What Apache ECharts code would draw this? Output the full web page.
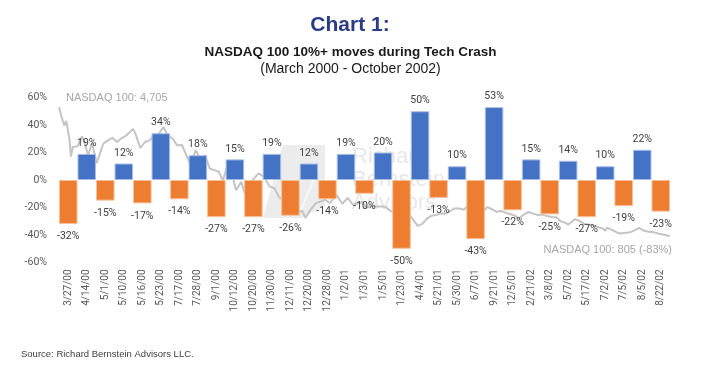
<!DOCTYPE html>
<html><head><meta charset="utf-8">
<script src="https://cdn.jsdelivr.net/npm/echarts@6/dist/echarts.min.js"></script>
<style>html,body{margin:0;padding:0;background:#fff}#c{width:703px;height:373px}</style>
</head><body><div id="c"></div>
<script>
const categories = ['3/27/00','4/14/00','5/1/00','5/10/00','5/16/00','5/23/00','7/17/00','7/28/00','9/1/00','10/12/00','10/20/00','11/30/00','12/11/00','12/20/00','12/28/00','1/2/01','1/3/01','1/5/01','1/23/01','4/4/01','5/21/01','5/30/01','6/7/01','9/21/01','12/5/01','2/21/02','3/8/02','5/7/02','5/17/02','7/2/02','7/5/02','8/5/02','8/22/02'];
const moves = [-32,19,-15,12,-17,34,-14,18,-27,15,-27,19,-26,12,-14,19,-10,20,-50,50,-13,10,-43,53,-22,15,-25,14,-27,10,-19,22,-23];

const lineDates = ['2000-03-27','2000-03-31','2000-04-04','2000-04-07','2000-04-12','2000-04-14','2000-04-17','2000-04-24','2000-05-01','2000-05-05','2000-05-10','2000-05-16','2000-05-23','2000-05-26','2000-06-02','2000-06-09','2000-06-16','2000-06-23','2000-06-30','2000-07-07','2000-07-17','2000-07-21','2000-07-28','2000-08-04','2000-08-11','2000-08-18','2000-08-25','2000-09-01','2000-09-08','2000-09-15','2000-09-22','2000-09-29','2000-10-06','2000-10-12','2000-10-20','2000-10-27','2000-11-03','2000-11-10','2000-11-17','2000-11-24','2000-11-30','2000-12-05','2000-12-11','2000-12-15','2000-12-20','2000-12-28','2001-01-02','2001-01-03','2001-01-05','2001-01-12','2001-01-23','2001-01-31','2001-02-09','2001-02-16','2001-02-23','2001-03-02','2001-03-09','2001-03-16','2001-03-22','2001-03-30','2001-04-04','2001-04-11','2001-04-20','2001-04-27','2001-05-04','2001-05-11','2001-05-21','2001-05-30','2001-06-07','2001-06-15','2001-06-22','2001-06-29','2001-07-06','2001-07-13','2001-07-20','2001-07-27','2001-08-03','2001-08-10','2001-08-17','2001-08-24','2001-08-31','2001-09-10','2001-09-21','2001-09-28','2001-10-05','2001-10-12','2001-10-19','2001-10-26','2001-11-02','2001-11-09','2001-11-16','2001-11-23','2001-11-30','2001-12-05','2001-12-14','2001-12-21','2001-12-31','2002-01-04','2002-01-11','2002-01-18','2002-01-25','2002-02-01','2002-02-08','2002-02-15','2002-02-21','2002-03-01','2002-03-08','2002-03-15','2002-03-22','2002-03-28','2002-04-05','2002-04-12','2002-04-19','2002-04-26','2002-05-03','2002-05-07','2002-05-10','2002-05-17','2002-05-24','2002-05-31','2002-06-07','2002-06-14','2002-06-21','2002-06-28','2002-07-02','2002-07-05','2002-07-12','2002-07-19','2002-07-24','2002-08-02','2002-08-05','2002-08-09','2002-08-16','2002-08-22','2002-08-30','2002-09-06','2002-09-13','2002-09-20','2002-09-27','2002-10-04','2002-10-08'];
const lineValues = [4705,4400,4150,4290,3720,3210,3500,3520,3820,3600,3250,3620,3010,3070,3600,3700,3780,3650,3770,3850,4050,3890,3470,3650,3700,3860,3900,4100,3850,3750,3550,3560,3250,2960,3400,3150,3250,2850,2800,2750,2480,2820,2950,2600,2190,2450,2100,2500,2240,2450,2700,2600,2300,2250,1980,1900,1800,1650,1500,1570,1350,1580,1800,1850,1900,1800,2050,1780,1960,1750,1800,1830,1660,1730,1700,1700,1690,1580,1500,1580,1470,1410,1110,1170,1330,1420,1440,1490,1480,1560,1640,1640,1600,1700,1620,1610,1580,1680,1620,1540,1560,1510,1470,1420,1330,1460,1530,1480,1440,1450,1410,1380,1370,1240,1200,1150,1180,1310,1260,1170,1150,1120,1070,1030,960,1060,990,920,880,900,860,920,980,1050,960,930,920,880,850,820,805];

const startLabel = 'NASDAQ 100: 4,705';
const endLabel = 'NASDAQ 100: 805 (-83%)';

const posData = moves.map(v => v > 0 ? v : '-');
const negData = moves.map(v => v < 0 ? v : '-');

const chart = echarts.init(document.getElementById('c'), null, {renderer: 'canvas'});
const labelFont = {fontFamily: 'Roboto', fontSize: 10.5, color: '#404040'};
chart.setOption({
  animation: false,
  backgroundColor: '#ffffff',
  grid: {left: 59, right: 33, top: 97.5, bottom: 110.5, containLabel: false},
  xAxis: [
    {type: 'category', data: categories, boundaryGap: true,
     axisLine: {show: false}, axisTick: {show: false}, splitLine: {show: false},
     axisLabel: {interval: 0, rotate: 90, margin: 7, fontFamily: 'Roboto', fontSize: 10, color: '#595959'}},
    {type: 'time', min: '2000-03-27', max: '2002-10-08', show: false}
  ],
  yAxis: [
    {type: 'value', min: -60, max: 60, interval: 20,
     axisLine: {show: false}, axisTick: {show: false}, splitLine: {show: false},
     axisLabel: {formatter: '{value}%', margin: 12, fontFamily: 'Roboto', fontSize: 10.5, color: '#595959'}},
    {type: 'value', min: 0, max: 5000, show: false, splitLine: {show: false}}
  ],
  graphic: [
    {type: 'polygon', z: -10, silent: true,
     shape: {points: [[283,145],[325,145],[325,206],[302,218],[263,218]]},
     style: {fill: 'rgba(195,195,195,0.32)'}},
    {type: 'polyline', z: -9, silent: true,
     shape: {points: [[290,205],[305,170],[318,170],[300,212]]},
     style: {stroke: 'rgba(255,255,255,0.6)', lineWidth: 2, fill: null}},
    {type: 'text', z: -9, silent: true, left: 352, top: 146,
     style: {text: 'Richard', font: '22px "Liberation Sans"', fill: 'rgba(185,185,185,0.35)'}},
    {type: 'text', z: -9, silent: true, left: 352, top: 169,
     style: {text: 'Bernstein', font: '22px "Liberation Sans"', fill: 'rgba(185,185,185,0.35)'}},
    {type: 'text', z: -9, silent: true, left: 352, top: 192,
     style: {text: 'Advisors', font: '22px "Liberation Sans"', fill: 'rgba(185,185,185,0.35)'}},
    {type: 'text', x: 350, y: 25.5, silent: true,
     style: {text: 'Chart 1:', font: 'bold 21px "Liberation Sans"', fill: '#2b3a85', align: 'center', verticalAlign: 'middle'}},
    {type: 'text', x: 350.5, y: 52, silent: true,
     style: {text: 'NASDAQ 100 10%+ moves during Tech Crash', font: 'bold 13.5px "Liberation Sans"', fill: '#1a1a1a', align: 'center', verticalAlign: 'middle'}},
    {type: 'text', x: 350.5, y: 69.5, silent: true,
     style: {text: '(March 2000 - October 2002)', font: '14px "Liberation Sans"', fill: '#1a1a1a', align: 'center', verticalAlign: 'middle'}},
    {type: 'text', x: 66, y: 98, silent: true,
     style: {text: startLabel, font: '11px "Liberation Sans"', fill: '#a6a6a6', align: 'left', verticalAlign: 'middle'}},
    {type: 'text', x: 672, y: 249.5, silent: true,
     style: {text: endLabel, font: '11px "Liberation Sans"', fill: '#a6a6a6', align: 'right', verticalAlign: 'middle'}},
    {type: 'text', x: 21, y: 354, silent: true,
     style: {text: 'Source: Richard Bernstein Advisors LLC.', font: '9.5px "Liberation Sans"', fill: '#404040', align: 'left', verticalAlign: 'middle'}}
  ],
  series: [
    {type: 'line', xAxisIndex: 1, yAxisIndex: 1, z: 1, silent: true,
     data: lineDates.map((d, i) => [d, lineValues[i]]),
     showSymbol: false, symbol: 'none',
     lineStyle: {color: '#c4c4c4', width: 2}},
    {type: 'bar', name: 'up', stack: 'm', z: 3, data: posData, barWidth: '100%', barCategoryGap: '0%', barGap: '0%',
     itemStyle: {color: '#4472c4', borderColor: '#a9bde6', borderWidth: 1},
     label: Object.assign({show: true, position: 'top', distance: 5, formatter: '{c}%'}, labelFont)},
    {type: 'bar', name: 'down', stack: 'm', z: 3, data: negData, barWidth: '100%', barCategoryGap: '0%', barGap: '0%',
     itemStyle: {color: '#ed7d31', borderColor: '#f6bf98', borderWidth: 1},
     label: Object.assign({show: true, position: 'bottom', distance: 7, formatter: '{c}%'}, labelFont)}
  ]
});
</script>
</body></html>
